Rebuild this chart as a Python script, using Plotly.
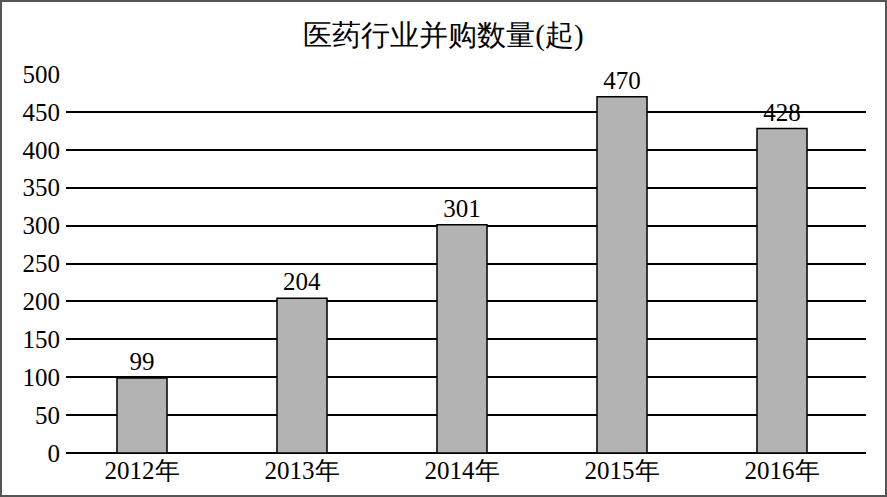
import plotly.graph_objects as go

categories = ["2012年", "2013年", "2014年", "2015年", "2016年"]
values = [99, 204, 301, 470, 428]
tick_vals = [0, 50, 100, 150, 200, 250, 300, 350, 400, 450, 500]

W, H = 887, 497
L, R, T, B = 66, 21, 74, 44
pw, ph = W - L - R, H - T - B

font_fam = "Liberation Serif"
num_font = dict(family=font_fam, size=25, color="#000000")

fig = go.Figure(go.Bar(
    x=categories, y=values,
    marker=dict(color="#b3b3b3", line=dict(color="#000000", width=1.5)),
    text=[str(v) for v in values], textposition="outside",
    textfont=num_font, outsidetextfont=num_font,
    cliponaxis=False,
))

fig.update_layout(
    width=W, height=H,
    margin=dict(l=L, r=R, t=T, b=B, autoexpand=False),
    paper_bgcolor="white", plot_bgcolor="white",
    bargap=0.6875,
    showlegend=False,
    title=dict(text="医药行业并购数量(起)", x=0.5, xanchor="center",
               y=1 - 35 / H, yanchor="middle",
               font=dict(family=font_fam, size=29, color="#000000")),
    font=num_font,
    xaxis=dict(showgrid=False, showline=False, ticks="", automargin=False,
               range=[-0.475, 4.525], tickfont=num_font),
    yaxis=dict(range=[0, 500], tickvals=tick_vals, showgrid=True,
               gridcolor="#000000", gridwidth=2, zeroline=True,
               zerolinecolor="#000000", zerolinewidth=2, showline=False,
               ticks="", ticklabelstandoff=5, automargin=False,
               tickfont=num_font),
    shapes=[dict(type="rect", xref="paper", yref="paper",
                 x0=-(L - 1) / pw, x1=1 + (R - 1) / pw,
                 y0=-(B - 1) / ph, y1=1 + (T - 1) / ph,
                 line=dict(color="#555555", width=2))],
)

fig.write_html("out.html", config={"displayModeBar": False})

with open("out.html", "r", encoding="utf-8") as f:
    html = f.read()
html = html.replace("<head>", "<head><style>html,body{margin:0;padding:0;overflow:hidden;}</style>", 1)
with open("out.html", "w", encoding="utf-8") as f:
    f.write(html)
